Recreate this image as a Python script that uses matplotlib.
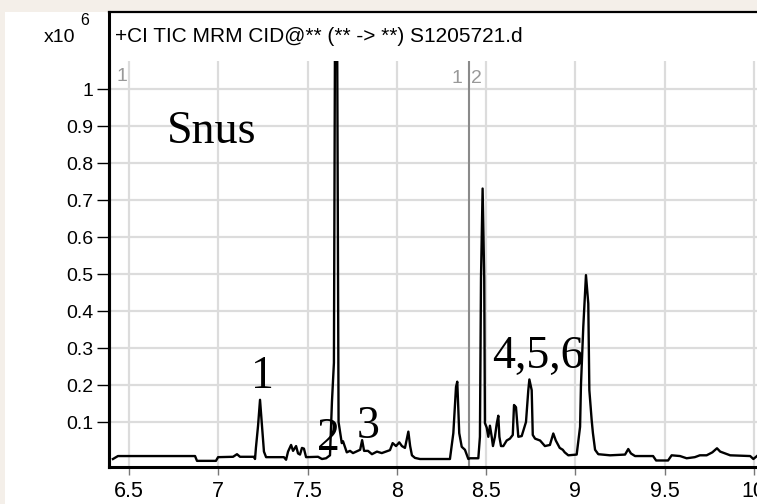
import matplotlib
matplotlib.use("Agg")
import matplotlib.pyplot as plt
from matplotlib.patches import Rectangle
from matplotlib.lines import Line2D

# acquisition time (min) and TIC counts (x10^6)
times = [
    6.410, 6.438, 6.870, 6.881, 6.987, 6.999, 7.083, 7.105, 7.122, 7.200,
    7.206, 7.211, 7.223, 7.234, 7.245, 7.256, 7.268, 7.368, 7.380, 7.391,
    7.408, 7.419, 7.436, 7.447, 7.458, 7.469, 7.480, 7.492, 7.559, 7.581,
    7.604, 7.626, 7.637, 7.648, 7.655, 7.665, 7.674, 7.678, 7.692, 7.699,
    7.720, 7.738, 7.755, 7.795, 7.806, 7.817, 7.839, 7.861, 7.889, 7.916,
    7.962, 7.977, 7.996, 8.014, 8.029, 8.046, 8.065, 8.075, 8.085, 8.102,
    8.130, 8.175, 8.298, 8.317, 8.332, 8.339, 8.350, 8.364, 8.382, 8.401,
    8.410, 8.457, 8.466, 8.472, 8.481, 8.490, 8.494, 8.504, 8.513, 8.522,
    8.532, 8.539, 8.550, 8.560, 8.569, 8.575, 8.584, 8.597, 8.616, 8.634,
    8.650, 8.657, 8.668, 8.681, 8.700, 8.724, 8.737, 8.743, 8.756, 8.762,
    8.775, 8.803, 8.830, 8.858, 8.877, 8.891, 8.913, 8.930, 8.941, 8.961,
    9.008, 9.027, 9.032, 9.045, 9.060, 9.073, 9.079, 9.092, 9.099, 9.111,
    9.129, 9.195, 9.279, 9.297, 9.312, 9.335, 9.436, 9.453, 9.520, 9.540,
    9.587, 9.624, 9.670, 9.698, 9.736, 9.768, 9.794, 9.812, 9.868, 9.980,
    9.998, 10.018,
]
counts = [
    0.000, 0.008, 0.008, -0.005, -0.005, 0.005, 0.006, 0.013, 0.006, 0.006,
    0.000, 0.030, 0.090, 0.160, 0.090, 0.020, 0.005, 0.005, -0.002, 0.020,
    0.038, 0.022, 0.035, 0.015, 0.012, 0.030, 0.028, 0.005, 0.006, 0.000,
    0.002, 0.010, 0.155, 0.260, 1.300, 1.300, 0.100, 0.087, 0.043, 0.048,
    0.018, 0.022, 0.016, 0.025, 0.051, 0.022, 0.022, 0.013, 0.020, 0.016,
    0.024, 0.043, 0.035, 0.045, 0.035, 0.030, 0.074, 0.035, 0.010, 0.003,
    0.000, 0.000, 0.000, 0.070, 0.195, 0.209, 0.070, 0.033, 0.025, 0.000,
    0.002, 0.002, 0.060, 0.490, 0.731, 0.490, 0.097, 0.085, 0.060, 0.090,
    0.060, 0.035, 0.060, 0.095, 0.117, 0.060, 0.035, 0.035, 0.050, 0.055,
    0.065, 0.146, 0.140, 0.060, 0.062, 0.100, 0.186, 0.215, 0.186, 0.065,
    0.055, 0.050, 0.035, 0.038, 0.069, 0.050, 0.030, 0.025, 0.018, 0.010,
    0.012, 0.087, 0.200, 0.357, 0.497, 0.420, 0.186, 0.105, 0.070, 0.025,
    0.013, 0.010, 0.012, 0.027, 0.015, 0.008, 0.008, -0.004, -0.004, 0.010,
    0.008, 0.002, 0.005, 0.010, 0.010, 0.018, 0.029, 0.020, 0.010, 0.008,
    0.000, 0.008,
]

x_ticks = [6.5, 7, 7.5, 8, 8.5, 9, 9.5, 10]
x_tick_labels = ["6.5", "7", "7.5", "8", "8.5", "9", "9.5", "10"]
y_ticks = [0.1, 0.2, 0.3, 0.4, 0.5, 0.6, 0.7, 0.8, 0.9, 1.0]
y_tick_labels = ["0.1", "0.2", "0.3", "0.4", "0.5", "0.6", "0.7", "0.8", "0.9", "1"]

peak_labels = ["1", "2", "3", "4,5,6"]
peak_label_x = [7.246, 7.615, 7.839, 8.791]
peak_label_y = [0.192, 0.024, 0.057, 0.245]

title = "+CI TIC MRM CID@** (** -> **) S1205721.d"
segment_break = 8.405

W, H = 757, 504
fig = plt.figure(figsize=(W / 100, H / 100), dpi=100, facecolor="#f4efe9")
plt.rcParams["font.family"] = ["Liberation Sans", "DejaVu Sans"]

# white panel
fig.add_artist(Rectangle((5 / W, 0), 1, 1 - 12 / H, transform=fig.transFigure,
                         facecolor="white", edgecolor="none", zorder=0))

left = 109 / W
right_px = 772
bottom = 1 - 467 / H
top = 1 - 61 / H
ax = fig.add_axes([left, bottom, right_px / W - left, top - bottom])
ax.set_facecolor("none")

# frame above the plot area (title box)
fig.add_artist(Line2D([left, left], [bottom, 1 - 12 / H], color="black", lw=2.2,
                      transform=fig.transFigure, zorder=5))
fig.add_artist(Line2D([left, 1], [1 - 12 / H, 1 - 12 / H], color="black", lw=1.6,
                      transform=fig.transFigure, zorder=5))
fig.text(115 / W, 1 - 42 / H, title, fontsize=15, va="baseline", ha="left")
fig.text(44 / W, 1 - 42 / H, "x10", fontsize=14, va="baseline", ha="left")
fig.text(80 / W, 1 - 25 / H, "6", fontsize=11.5, va="baseline", ha="left")

# pixel scale: 6.5 at x=129 px, 178.5 px per minute
ax.set_xlim(6.5 + (109 - 129) / 178.5, 6.5 + (right_px - 129) / 178.5)
ax.set_ylim(-0.0216, 1.0757)

for xt in x_ticks:
    ax.axvline(xt, color="#dcdcdc", lw=1.6, zorder=1)
for yt in y_ticks:
    ax.axhline(yt, color="#dcdcdc", lw=1.6, zorder=1)

ax.axvline(segment_break, color="#8a8a8a", lw=1.5, zorder=2)

ax.plot(times, counts, color="black", lw=1.7, zorder=3)

ax.set_xticks(x_ticks)
ax.set_xticklabels(x_tick_labels, fontsize=15.5)
ax.set_yticks(y_ticks)
ax.set_yticklabels(y_tick_labels, fontsize=14)
ax.tick_params(axis="x", direction="out", length=6, width=1, color="#777777", pad=4)
ax.tick_params(axis="y", direction="out", length=9, width=1, color="black", pad=2)

for side in ["top", "right"]:
    ax.spines[side].set_visible(False)
ax.spines["left"].set_linewidth(2.2)
ax.spines["bottom"].set_linewidth(2.2)

serif = ["Liberation Serif", "DejaVu Serif"]
ax.text(6.963, 0.855, "Snus", family=serif, fontsize=33, ha="center", va="baseline")
for lab, lx, ly in zip(peak_labels, peak_label_x, peak_label_y):
    ax.text(lx, ly, lab, family=serif, fontsize=33, ha="center", va="baseline", zorder=4)

ax.text(6.431, 1.022, "1", color="#999999", fontsize=14, ha="left", va="baseline")
ax.text(8.366, 1.016, "1", color="#999999", fontsize=14, ha="right", va="baseline")
ax.text(8.418, 1.016, "2", color="#999999", fontsize=14, ha="left", va="baseline")

fig.savefig("out.png", dpi=100, facecolor=fig.get_facecolor())
